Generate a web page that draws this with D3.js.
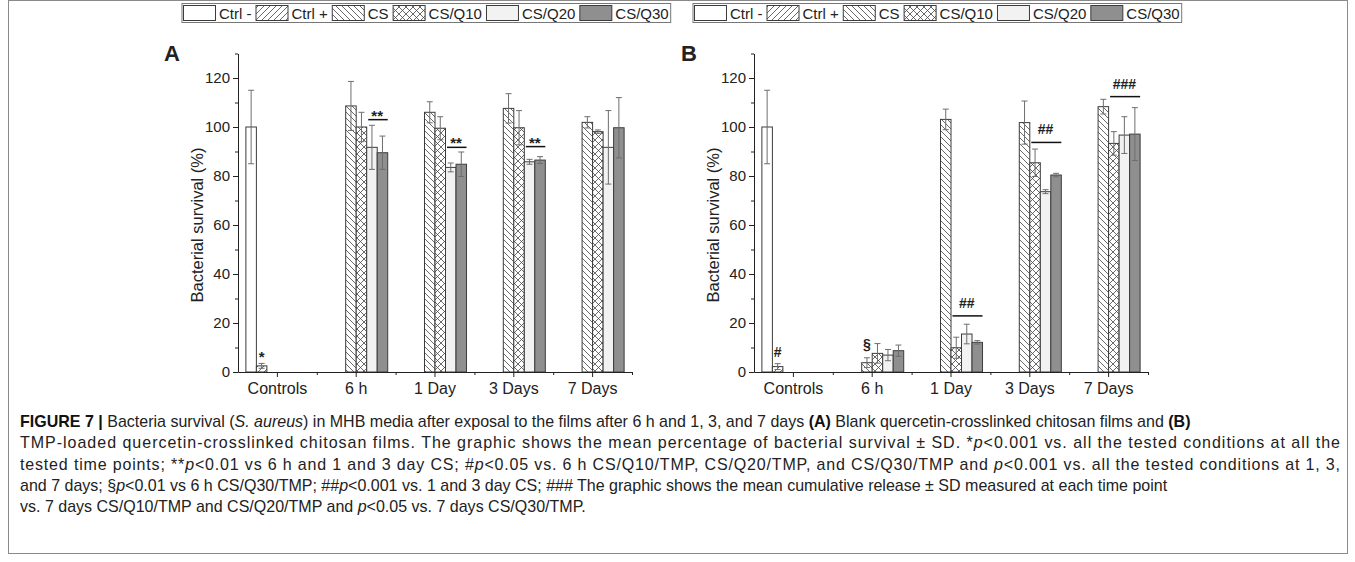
<!DOCTYPE html>
<html>
<head>
<meta charset="utf-8">
<script src="https://cdn.jsdelivr.net/npm/d3@7"></script>
<style>
  body { margin: 0; background: #fff; }
  svg text { font-family: "Liberation Sans", Arial, sans-serif; fill: #222; }
  .cap { font-family: "Liberation Sans Narrow", "Liberation Sans", Arial, sans-serif; white-space: pre; }
</style>
</head>
<body>
<svg id="chart" width="1355" height="562"></svg>
<script>
const categories = ['Controls', '6 h', '1 Day', '3 Days', '7 Days'];
const seriesNames = ['Ctrl -', 'Ctrl +', 'CS', 'CS/Q10', 'CS/Q20', 'CS/Q30'];
const yTicks = [0, 20, 40, 60, 80, 100, 120];
const yMinor = [10, 30, 50, 70, 90, 110, 130];

// rows = series, columns = categories (null = no bar)
const meanA = [
  [100, null, null, null, null],
  [2.5, null, null, null, null],
  [null, 108.6, 106, 107.6, 101.9],
  [null, 100, 99.5, 99.7, 98.1],
  [null, 91.7, 83.5, 85.8, 91.7],
  [null, 89.5, 84.8, 86.5, 99.7]
];
const sdA = [
  [15, null, null, null, null],
  [1, null, null, null, null],
  [null, 10, 4.3, 6, 2.3],
  [null, 6, 4.7, 7, 0.7],
  [null, 9, 1.8, 1, 15],
  [null, 6.8, 5, 1.4, 12.3]
];
const meanB = [
  [100, null, null, null, null],
  [2.2, null, null, null, null],
  [null, 3.8, 103.1, 101.8, 108.3],
  [null, 7.6, 9.9, 85.4, 93.3],
  [null, 6.9, 15.5, 73.6, 96.7],
  [null, 8.7, 12.1, 80.4, 97.1]
];
const sdB = [
  [15, null, null, null, null],
  [1.2, null, null, null, null],
  [null, 2, 4.2, 8.8, 3],
  [null, 4, 4.3, 5.6, 4.8],
  [null, 2.3, 4, 0.8, 7.5],
  [null, 2.3, 0.7, 0.7, 10.8]
];

// significance marks: level is in % units
const sigA = [
  { cat: 'Controls', from: 'Ctrl +', to: 'Ctrl +', level: 4.2, label: '*', bar: false },
  { cat: '6 h', from: 'CS/Q20', to: 'CS/Q30', level: 103, label: '**', bar: true },
  { cat: '1 Day', from: 'CS/Q20', to: 'CS/Q30', level: 91.7, label: '**', bar: true },
  { cat: '3 Days', from: 'CS/Q20', to: 'CS/Q30', level: 92, label: '**', bar: true }
];
const sigB = [
  { cat: 'Controls', from: 'Ctrl +', to: 'Ctrl +', level: 6.2, label: '#', bar: false },
  { cat: '6 h', from: 'CS', to: 'CS', level: 9.4, label: '§', bar: false },
  { cat: '1 Day', from: 'CS/Q10', to: 'CS/Q30', level: 22.9, label: '##', bar: true },
  { cat: '3 Days', from: 'CS/Q10', to: 'CS/Q30', level: 93.7, label: '##', bar: true },
  { cat: '7 Days', from: 'CS/Q10', to: 'CS/Q30', level: 112.4, label: '###', bar: true }
];

const captionLines = [
  [['FIGURE 7 | ', 'b'], ['Bacteria survival ('], ['S. aureus', 'i'], [') in MHB media after exposal to the films after 6 h and 1, 3, and 7 days '], ['(A)', 'b'], [' Blank quercetin-crosslinked chitosan films and '], ['(B)', 'b']],
  [['TMP-loaded quercetin-crosslinked chitosan films. The graphic shows the mean percentage of bacterial survival ± SD. *'], ['p', 'i'], ['˂0.001 vs. all the tested conditions at all the']],
  [['tested time points; **'], ['p', 'i'], ['˂0.01 vs 6 h and 1 and 3 day CS; #'], ['p', 'i'], ['˂0.05 vs. 6 h CS/Q10/TMP, CS/Q20/TMP, and CS/Q30/TMP and '], ['p', 'i'], ['˂0.001 vs. all the tested conditions at 1, 3,']],
  [['and 7 days; §'], ['p', 'i'], ['˂0.01 vs 6 h CS/Q30/TMP; ##'], ['p', 'i'], ['˂0.001 vs. 1 and 3 day CS; ### The graphic shows the mean cumulative release ± SD measured at each time point']],
  [['vs. 7 days CS/Q10/TMP and CS/Q20/TMP and '], ['p', 'i'], ['˂0.05 vs. 7 days CS/Q30/TMP.']]
];
// lines that are set flush to the full caption width
const captionJustified = [false, true, true, false, false];

const svg = d3.select('#chart');

// frame round the whole figure
svg.append('rect').attr('x', 8.5).attr('y', 0.5).attr('width', 1339).attr('height', 553)
  .attr('fill', 'none').attr('stroke', '#8a8a8a');

const defs = svg.append('defs');
function hatch(id, size, d) {
  const p = defs.append('pattern').attr('id', id).attr('patternUnits', 'userSpaceOnUse')
    .attr('width', size).attr('height', size);
  p.append('rect').attr('width', size).attr('height', size).attr('fill', '#fff');
  p.append('path').attr('d', d).attr('stroke', '#444').attr('stroke-width', 0.8).attr('fill', 'none');
}
hatch('fwd', 6, 'M-1,1 L1,-1 M0,6 L6,0 M5,7 L7,5');
hatch('back', 6, 'M-1,5 L1,7 M0,0 L6,6 M5,-1 L7,1');
hatch('cross', 7, 'M0,0 L7,7 M7,0 L0,7');
const fills = ['#fff', 'url(#fwd)', 'url(#back)', 'url(#cross)', '#f2f2f2', '#8f8f8f'];

function drawPanel(left, means, sds, sig, letter, letterX, legendX) {
  const x0 = d3.scaleBand().domain(categories).range([left, left + 394]);
  const x1 = d3.scaleBand().domain(seriesNames).range([0, x0.bandwidth() * 0.8]);
  const off = x0.bandwidth() * 0.1;
  const y = d3.scaleLinear().domain([0, 130]).range([372, 53.5]);
  const slot = (c, s) => x0(c) + off + x1(s);

  const g = svg.append('g');

  const rows = [];
  means.forEach((row, si) => row.forEach((v, ci) => {
    if (v != null) rows.push({ s: seriesNames[si], si, c: categories[ci], v, sd: sds[si][ci] });
  }));

  g.selectAll('rect.bar').data(rows).join('rect')
    .attr('class', 'bar')
    .attr('x', d => slot(d.c, d.s))
    .attr('y', d => y(d.v))
    .attr('width', x1.bandwidth())
    .attr('height', d => y(0) - y(d.v))
    .attr('fill', d => fills[d.si])
    .attr('stroke', '#3c3c3c')
    .attr('stroke-width', 1);

  // error bars
  const eb = g.selectAll('g.err').data(rows).join('g').attr('class', 'err')
    .attr('stroke', '#6e6e6e').attr('stroke-width', 1);
  const cx = d => slot(d.c, d.s) + x1.bandwidth() / 2;
  eb.append('line').attr('x1', cx).attr('x2', cx)
    .attr('y1', d => y(d.v - d.sd)).attr('y2', d => y(d.v + d.sd));
  eb.append('line').attr('x1', d => cx(d) - 3).attr('x2', d => cx(d) + 3)
    .attr('y1', d => y(d.v + d.sd)).attr('y2', d => y(d.v + d.sd));
  eb.append('line').attr('x1', d => cx(d) - 3).attr('x2', d => cx(d) + 3)
    .attr('y1', d => y(d.v - d.sd)).attr('y2', d => y(d.v - d.sd));

  // y axis
  const ya = g.append('g').attr('transform', `translate(${left},0)`)
    .call(d3.axisLeft(y).tickValues(yTicks).tickSize(5).tickSizeOuter(0).tickPadding(3));
  ya.attr('font-size', 15).attr('color', '#222');
  ya.selectAll('.minor').data(yMinor).join('line').attr('class', 'minor')
    .attr('x1', -3).attr('x2', 0).attr('y1', d => y(d) + 0.5).attr('y2', d => y(d) + 0.5)
    .attr('stroke', '#222');

  // x axis
  const xa = g.append('g').attr('transform', 'translate(0,372)')
    .call(d3.axisBottom(x0).tickSize(5).tickSizeOuter(0).tickPadding(6));
  xa.attr('font-size', 16).attr('color', '#222');
  const bounds = categories.slice(1).map(c => x0(c)).concat([left + 394]);
  xa.selectAll('.minor').data(bounds).join('line').attr('class', 'minor')
    .attr('x1', d => d + 0.5).attr('x2', d => d + 0.5).attr('y1', 0).attr('y2', 3)
    .attr('stroke', '#222');

  g.append('text')
    .attr('transform', `translate(${left - 35},${225}) rotate(-90)`)
    .attr('text-anchor', 'middle').attr('font-size', 16.5)
    .text('Bacterial survival (%)');

  // significance marks
  sig.forEach(m => {
    const xa0 = slot(m.cat, m.from), xa1 = slot(m.cat, m.to) + x1.bandwidth();
    const mid = (xa0 + xa1) / 2;
    let ty = y(m.level);
    if (m.bar) {
      g.append('line').attr('x1', xa0 + 1.5).attr('x2', xa1).attr('y1', y(m.level)).attr('y2', y(m.level))
        .attr('stroke', '#111').attr('stroke-width', 1.5);
      ty = m.label.includes('*') ? y(m.level) + 1 : y(m.level) - 8;
    }
    g.append('text').attr('x', mid).attr('y', ty).attr('text-anchor', 'middle')
      .attr('font-size', m.label.includes('*') ? 15 : 14).attr('font-weight', 'bold')
      .text(m.label);
  });

  // panel letter
  g.append('text').attr('x', letterX).attr('y', 61)
    .attr('font-size', 22).attr('font-weight', 'bold').attr('fill', '#111').text(letter);

  // legend
  const lg = g.append('g');
  const box = lg.append('rect').attr('x', legendX - 1).attr('y', 3.5).attr('height', 19)
    .attr('fill', '#fff').attr('stroke', '#777');
  let lx = legendX;
  seriesNames.forEach((s, i) => {
    lg.append('rect').attr('x', lx + 0.5).attr('y', 5.5).attr('width', 32).attr('height', 15)
      .attr('fill', fills[i]).attr('stroke', '#3c3c3c');
    const t = lg.append('text').attr('x', lx + 36).attr('y', 18.5).attr('font-size', 15).text(s);
    lx += 36 + t.node().getComputedTextLength() + 4;
  });
  box.attr('width', lx - legendX - 1);
}

drawPanel(238, meanA, sdA, sigA, 'A', 164, 183);
drawPanel(754, meanB, sdB, sigB, 'B', 681, 694);

// caption: narrow the whole block horizontally, then justify the full lines
const cap = svg.append('g');
const capNodes = captionLines.map((line, i) => {
  const t = cap.append('text').attr('class', 'cap').attr('x', 0).attr('y', 427 + i * 21.3)
    .attr('font-size', 16).attr('fill', '#333');
  line.forEach(([txt, st]) => {
    const ts = t.append('tspan').text(txt);
    if (st === 'b') ts.attr('font-weight', 'bold').attr('fill', '#111');
    if (st === 'i') ts.attr('font-style', 'italic');
  });
  return t;
});
const nat = capNodes.map(t => t.node().getComputedTextLength());
const sx = (1148 + 1180 + 558) / (nat[0] + nat[3] + nat[4]);
cap.attr('transform', `translate(20,0) scale(${sx},1)`);
capNodes.forEach((t, i) => {
  if (captionJustified[i]) t.attr('textLength', 1320 / sx).attr('lengthAdjust', 'spacing');
});
</script>
</body>
</html>
